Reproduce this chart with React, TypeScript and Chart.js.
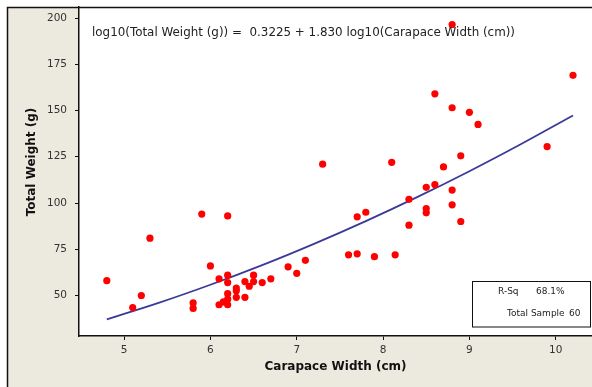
import React, { useEffect, useRef } from "react";
import { Chart, registerables } from "chart.js";

Chart.register(...registerables);

// Observed crabs: carapace width (cm) and total weight (g)
const carapaceWidths = [
  4.8, 5.1, 5.2, 5.3, 5.8, 5.8, 5.9, 6.0, 6.2, 6.1,
  6.2, 6.2, 6.2, 6.1, 6.15, 6.2, 6.2, 6.3, 6.3, 6.3,
  6.4, 6.4, 6.5, 6.5, 6.45, 6.6, 6.7, 6.9, 7.0, 7.1,
  7.3, 7.6, 7.7, 7.9, 8.14, 7.7, 7.8, 8.1, 8.3, 8.3,
  8.5, 8.5, 8.5, 8.6, 8.7, 8.8, 8.8, 8.9, 8.9, 8.8,
  9.0, 9.1, 9.9, 8.8, 10.2, 8.6,
];
const totalWeights = [
  58, 43.5, 50, 81, 46, 43, 94, 66, 93, 59,
  61, 57, 51, 45, 46.5, 48, 45, 54, 52.5, 49,
  57.5, 49, 61, 57.5, 55, 57, 59, 65.5, 62, 69,
  121, 72, 72.5, 71, 72, 92.5, 95, 122, 102, 88,
  97, 94.7, 108.5, 110, 119.5, 107, 99, 90, 125.5, 151.5,
  149, 142.5, 130.5, 196.5, 169, 159,
];

// Fitted curve
const fitWidths = [4.8, 5.4, 6.0, 6.6, 7.2, 7.8, 8.4, 9.0, 9.6, 10.2];
const fitWeights = [37.1, 46.0, 55.8, 66.4, 77.9, 90.2, 103.3, 117.2, 131.9, 147.3];

const xTicks = [5, 6, 7, 8, 9, 10];
const yTicks = [50, 75, 100, 125, 150, 175, 200];

const equationText = "log10(Total Weight (g)) =  0.3225 + 1.830 log10(Carapace Width (cm))";
const xTitle = "Carapace Width (cm)";
const yTitle = "Total Weight (g)";
const statLabels = ["R-Sq", "Total Sample"];
const statValues = ["68.1%", "60"];

const BEIGE = "#ECE9DF";

const framePlugin = {
  id: "frame",
  beforeDraw(chart: any) {
    const ctx = chart.ctx;
    const { left, top, right, bottom } = chart.chartArea;
    const W = chart.width;
    const H = chart.height;
    ctx.save();
    ctx.fillStyle = "#ffffff";
    ctx.fillRect(0, 0, W, H);
    ctx.fillStyle = BEIGE;
    ctx.fillRect(7, 7, W - 7, H - 7);
    ctx.fillStyle = "#ffffff";
    ctx.fillRect(left, top, right - left, bottom - top);
    ctx.strokeStyle = "#111";
    ctx.lineWidth = 1.5;
    ctx.beginPath();
    ctx.moveTo(7.5, H);
    ctx.lineTo(7.5, 7.5);
    ctx.lineTo(W, 7.5);
    ctx.stroke();
    ctx.restore();
  },
  afterDraw(chart: any) {
    const ctx = chart.ctx;
    const { left, right } = chart.chartArea;
    ctx.save();
    // equation
    ctx.fillStyle = "#222";
    ctx.font = "12px 'DejaVu Sans'";
    ctx.textBaseline = "middle";
    ctx.textAlign = "left";
    const eqW = ctx.measureText(equationText).width;
    ctx.save();
    ctx.translate(92, 33);
    ctx.scale(423 / eqW, 1);
    ctx.fillText(equationText, 0, 0);
    ctx.restore();

    // axis titles
    ctx.font = "bold 12px 'DejaVu Sans'";
    ctx.textAlign = "center";
    ctx.fillStyle = "#111";
    ctx.fillText(xTitle, (left + right) / 2, 367);
    ctx.save();
    ctx.translate(32, 162);
    ctx.rotate(-Math.PI / 2);
    ctx.fillText(yTitle, 0, 0);
    ctx.restore();

    // stats box
    ctx.strokeStyle = "#111";
    ctx.lineWidth = 1;
    ctx.fillStyle = "#ffffff";
    ctx.fillRect(472.5, 281.5, 118, 45.5);
    ctx.strokeRect(472.5, 281.5, 118, 45.5);
    ctx.fillStyle = "#222";
    ctx.font = "9px 'DejaVu Sans'";
    ctx.textAlign = "left";
    ctx.fillText(statLabels[0], 498, 292);
    ctx.fillText(statValues[0], 536, 292);
    ctx.fillText(statLabels[1], 507, 314);
    ctx.fillText(statValues[1], 569, 314);
    ctx.restore();
  },
};

export default function App() {
  const canvasRef = useRef<HTMLCanvasElement | null>(null);

  useEffect(() => {
    const canvas = canvasRef.current;
    if (!canvas) return;
    const points = carapaceWidths.map((x, i) => ({ x, y: totalWeights[i] }));
    const fit = fitWidths.map((x, i) => ({ x, y: fitWeights[i] }));
    const chart = new Chart(canvas, {
      type: "scatter",
      data: {
        datasets: [
          {
            label: "Observed",
            data: points,
            backgroundColor: "#ff0000",
            borderColor: "#ff0000",
            pointRadius: 3.6,
            pointBorderWidth: 0,
            order: 0,
          },
          {
            label: "Fit",
            type: "line",
            data: fit,
            showLine: true,
            borderColor: "#3a3a98",
            borderWidth: 1.8,
            pointRadius: 0,
            tension: 0.4,
            cubicInterpolationMode: "monotone",
            fill: false,
            order: 1,
          } as any,
        ],
      },
      options: {
        animation: false,
        responsive: false,
        maintainAspectRatio: false,
        layout: { autoPadding: false, padding: { top: 7, left: 0, right: 0, bottom: 0 } },
        plugins: {
          legend: { display: false },
          tooltip: { enabled: false },
        },
        scales: {
          x: {
            type: "linear",
            min: 4.478,
            max: 10.42,
            afterBuildTicks: (s: any) => {
              s.ticks = xTicks.map((v) => ({ value: v }));
            },
            afterFit: (s: any) => {
              s.height = 51;
              s.paddingLeft = 0;
              s.paddingRight = 0;
            },
            grid: {
              display: true,
              drawOnChartArea: false,
              drawTicks: true,
              tickLength: 4,
              color: "#111",
            },
            border: { display: true, color: "#111", width: 1.5 },
            ticks: {
              color: "#333",
              font: { family: "'DejaVu Sans'", size: 10.5 },
              padding: 4,
              maxRotation: 0,
            },
          },
          y: {
            type: "linear",
            min: 28.1,
            max: 205.96,
            afterBuildTicks: (s: any) => {
              s.ticks = yTicks.map((v) => ({ value: v }));
            },
            afterFit: (s: any) => {
              s.width = 79;
              s.paddingTop = 0;
              s.paddingBottom = 0;
            },
            grid: {
              display: true,
              drawOnChartArea: false,
              drawTicks: true,
              tickLength: 4,
              color: "#111",
            },
            border: { display: true, color: "#111", width: 1.5 },
            ticks: {
              color: "#333",
              font: { family: "'DejaVu Sans'", size: 10.5 },
              padding: 8,
            },
          },
        },
      },
      plugins: [framePlugin],
    });
    return () => chart.destroy();
  }, []);

  return (
    <div style={{ position: "fixed", left: 0, top: 0, width: 592, height: 387 }}>
      <canvas ref={canvasRef} width={592} height={387} style={{ width: 592, height: 387, display: "block" }} />
    </div>
  );
}
